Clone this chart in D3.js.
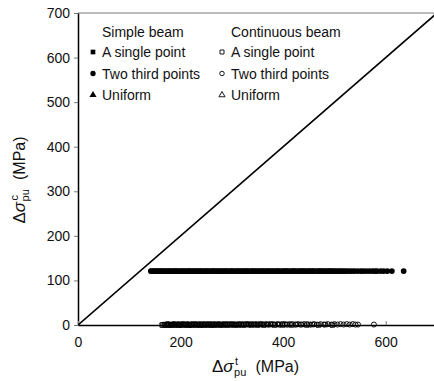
<!DOCTYPE html>
<html lang='en'>
<head>
<meta charset='UTF-8'>
<title>Stress increment: continuous vs simple beams</title>
<script src='https://d3js.org/d3.v7.min.js'></script>
<style>
  body { margin: 0; background: #fff; }
  text { font-family: 'Liberation Sans', Arial, sans-serif; fill: #111; }
</style>
</head>
<body>
<svg width='434' height='381'></svg>
<script>
// values, MPa
const xTicks = [0, 200, 400, 600]
const yTicks = [0, 100, 200, 300, 400, 500, 600, 700]

// simple beam, two third points (filled circles)
const sbTwoX = [142, 146, 149, 153, 157, 160, 164, 167, 171, 175, 178, 182, 186, 189, 192, 196, 200, 203, 207, 211,
  215, 218, 221, 225, 229, 232, 236, 240, 243, 247, 250, 254, 258, 262, 265, 268, 272, 276, 280, 283,
  287, 290, 294, 298, 301, 305, 309, 312, 316, 320, 323, 327, 330, 334, 338, 341, 345, 349, 352, 356,
  360, 363, 367, 370, 374, 378, 381, 385, 389, 392, 396, 400, 403, 407, 410, 414, 418, 421, 425, 429,
  432, 436, 440, 443, 447, 450, 454, 458, 461, 465, 469, 472, 476, 480, 483, 487, 490, 494, 498, 501,
  505, 509, 512, 516, 520, 524, 529, 534, 539, 545, 551, 556, 562, 568, 574, 579, 583, 590, 596, 603,
  612, 635]
const sbTwoY = [121, 121, 121, 121, 121, 121, 121, 121, 121, 121, 121, 121, 121, 121, 121, 121, 121, 121, 121, 121,
  121, 121, 121, 121, 121, 121, 121, 121, 121, 121, 121, 121, 121, 121, 121, 121, 121, 121, 121, 121,
  121, 121, 121, 121, 121, 121, 121, 121, 121, 121, 121, 121, 121, 121, 121, 121, 121, 121, 121, 121,
  121, 121, 121, 121, 121, 121, 121, 121, 121, 121, 121, 121, 121, 121, 121, 121, 121, 121, 121, 121,
  121, 121, 121, 121, 121, 121, 121, 121, 121, 121, 121, 121, 121, 121, 121, 121, 121, 121, 121, 121,
  121, 121, 121, 121, 121, 121, 121, 121, 121, 121, 121, 121, 121, 121, 121, 121, 121, 121, 121, 121,
  121, 121]

// simple beam, a single point (filled squares)
const sbOneX = [144, 151, 158, 166, 175, 184, 193, 205, 216, 227, 238, 250, 262, 274, 287, 300, 314, 328, 342, 357,
  372, 388, 404, 420, 437, 455, 473, 492]
const sbOneY = [121, 121, 121, 121, 121, 121, 121, 121, 121, 121, 121, 121, 121, 121, 121, 121, 121, 121, 121, 121,
  121, 121, 121, 121, 121, 121, 121, 121]

// continuous beam, a single point (open squares)
const cbOneX = [164, 166, 169, 172, 174, 177, 180, 183, 185, 188, 191, 194, 197, 199, 202, 205, 208, 211, 214, 217,
  220, 223, 226, 229, 232, 235, 238, 241, 244, 247, 250, 253, 256, 260, 263, 266, 270, 273, 277, 280,
  284, 288, 292, 296, 300, 304, 308, 313, 318, 323, 328, 333, 338, 344, 350, 356, 362, 369, 376, 383,
  391, 399, 407, 416, 425, 435, 446, 457, 469, 482, 496]
const cbOneY = [0, 0, 1, 0, 1, 0, 1, 0, 1, 1, 0, 1, 0, 1, 0, 1, 1, 0, 1, 0,
  1, 0, 1, 1, 0, 1, 0, 1, 0, 1, 1, 0, 1, 0, 1, 0, 1, 1, 0, 1,
  0, 1, 0, 1, 1, 0, 1, 0, 1, 0, 1, 1, 0, 1, 0, 1, 0, 1, 1, 0,
  1, 0, 1, 0, 1, 1, 0, 1, 0, 1, 0]

// continuous beam, two third points (open circles)
const cbTwoX = [172, 175, 178, 181, 184, 187, 190, 193, 196, 199, 202, 205, 208, 211, 214, 217, 220, 223, 226, 229,
  232, 235, 238, 241, 244, 247, 250, 253, 256, 259, 262, 265, 268, 271, 274, 277, 280, 284, 287, 290,
  293, 297, 300, 303, 307, 310, 314, 317, 321, 324, 328, 332, 335, 339, 343, 347, 351, 355, 359, 363,
  367, 371, 375, 380, 384, 389, 393, 398, 403, 408, 413, 418, 424, 429, 435, 441, 447, 453, 460, 466,
  473, 480, 487, 494, 500, 506, 512, 518, 524, 530, 536, 541, 546, 577]
const cbTwoY = [1, 2, 1, 0, 1, 2, 1, 1, 2, 0, 1, 2, 1, 1, 2, 0, 1, 2, 1, 2,
  1, 1, 2, 0, 2, 1, 1, 2, 1, 2, 0, 2, 1, 1, 2, 1, 1, 2, 1, 2,
  1, 2, 1, 2, 1, 1, 2, 1, 2, 1, 2, 2, 1, 2, 1, 2, 1, 2, 2, 1,
  2, 1, 2, 2, 1, 2, 1, 2, 2, 1, 2, 2, 1, 2, 1, 2, 2, 1, 2, 1,
  2, 1, 2, 1, 2, 1, 2, 1, 2, 1, 2, 1, 1, 1]

const svg = d3.select('svg')

const x = d3.scaleLinear().domain([0, 700]).range([78, 437])
const y = d3.scaleLinear().domain([0, 700]).range([325, 13])

svg.append('clipPath').attr('id', 'plot')
  .append('rect')
    .attr('x', x(0)).attr('y', y(700))
    .attr('width', x(700) - x(0)).attr('height', y(0) - y(700))

// frame: top and right edges in grey
svg.append('path')
  .attr('d', `M${x(0)},${y(700)}H${x(700)}V${y(0)}`)
  .attr('fill', 'none').attr('stroke', '#777').attr('stroke-width', 1)

// y axis, ticks outside
let gy = svg.append('g')
  .attr('transform', `translate(${x(0)},0)`)
  .call(d3.axisLeft(y).tickValues(yTicks).tickSizeInner(4).tickSizeOuter(0).tickPadding(4))
gy.attr('font-size', 14).attr('font-family', null)
gy.select('.domain').attr('stroke', '#000').attr('stroke-width', 1.5)
gy.selectAll('.tick line').attr('stroke', '#777')

// x axis, ticks inside
let gx = svg.append('g')
  .attr('transform', `translate(0,${y(0)})`)
  .call(d3.axisBottom(x).tickValues(xTicks).tickSizeInner(-4).tickSizeOuter(0).tickPadding(12))
gx.attr('font-size', 14).attr('font-family', null)
gx.select('.domain').attr('stroke', '#000').attr('stroke-width', 1.5)
gx.selectAll('.tick line').attr('stroke', '#777')

// 1:1 line
svg.append('line')
  .attr('clip-path', 'url(#plot)')
  .attr('x1', x(0)).attr('y1', y(0)).attr('x2', x(700)).attr('y2', y(700))
  .attr('stroke', '#000').attr('stroke-width', 1.6)

// points
const sym = (type, size) => d3.symbol().type(type).size(size)
function series(xs, ys, type, filled, size) {
  svg.append('g').selectAll('path')
    .data(xs.map((v, i) => [v, ys[i]]))
    .enter().append('path')
      .attr('transform', d => `translate(${x(d[0])},${y(d[1])})`)
      .attr('d', sym(type, size))
      .attr('fill', filled ? '#000' : 'none')
      .attr('stroke', '#000')
      .attr('stroke-width', filled ? 0 : 0.9)
}
series(cbOneX, cbOneY, d3.symbolSquare, false, 20)
series(cbTwoX, cbTwoY, d3.symbolCircle, false, 20)
series(sbOneX, sbOneY, d3.symbolSquare, true, 24)
series(sbTwoX, sbTwoY, d3.symbolCircle, true, 26)

// legend
const legendCols = [
  { x: 93, title: 'Simple beam', filled: true },
  { x: 222, title: 'Continuous beam', filled: false }
]
const legendRows = ['A single point', 'Two third points', 'Uniform']
const legendTypes = [d3.symbolSquare, d3.symbolCircle, d3.symbolTriangle]
legendCols.forEach(c => {
  let lg = svg.append('g').attr('transform', `translate(${c.x},0)`)
  lg.append('text').attr('x', 9).attr('y', 37).attr('font-size', 14).text(c.title)
  legendRows.forEach((r, i) => {
    let ry = 52 + i * 21.5
    lg.append('path')
      .attr('transform', `translate(0,${ry})`)
      .attr('d', sym(legendTypes[i], c.filled ? 22 : 16))
      .attr('fill', c.filled ? '#000' : '#fff')
      .attr('stroke', '#000').attr('stroke-width', c.filled ? 0 : 0.9)
    lg.append('text').attr('x', 9).attr('y', ry + 5).attr('font-size', 14).text(r)
  })
})

// axis titles: delta sigma with stacked super/subscript
function mathLabel(g, sup) {
  let t = g.append('text').attr('font-size', 17)
  t.append('tspan').text('Δ')
  t.append('tspan').attr('font-style', 'italic').text('σ')
  let w = t.node().getComputedTextLength()
  g.append('text').attr('x', w + 1.5).attr('y', -7).attr('font-size', 11).text(sup)
  g.append('text').attr('x', w + 0.5).attr('y', 4).attr('font-size', 11).text('pu')
  g.append('text').attr('x', w + 22).attr('font-size', 16).text('(MPa)')
  return g.node().getBBox()
}

let xt = svg.append('g')
let xb = mathLabel(xt, 't')
xt.attr('transform', `translate(${(x(0) + x(700)) / 2 - xb.width / 2 - 2},372)`)

let yt = svg.append('g')
let yb = mathLabel(yt, 'c')
yt.attr('transform', `translate(25,${(y(0) + y(700)) / 2 + yb.width / 2 + 11}) rotate(-90)`)
</script>
</body>
</html>
